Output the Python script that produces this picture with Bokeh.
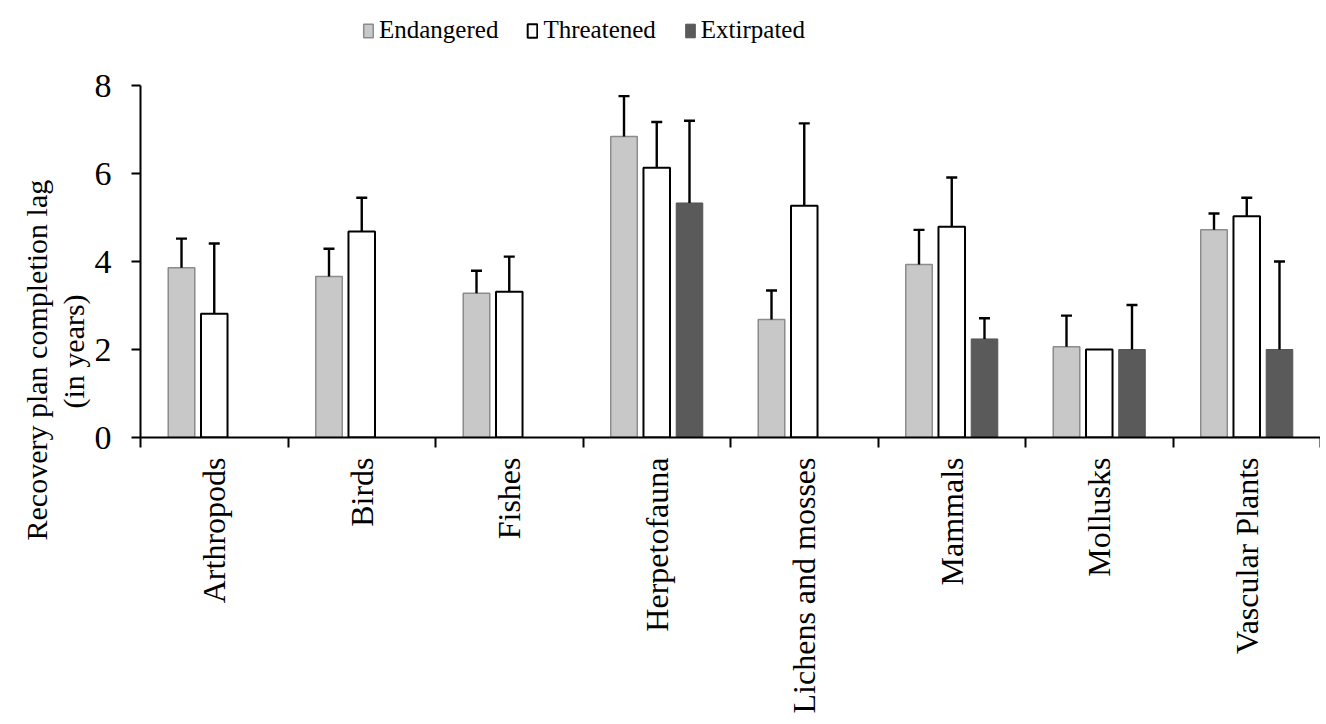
import numpy as np
from bokeh.plotting import figure
from bokeh.models import (ColumnDataSource, FixedTicker, Legend, LegendItem,
                          Whisker, TeeHead, Range1d, Title)
from bokeh.transform import dodge
from bokeh.embed import file_html
from bokeh.resources import INLINE

nan = float("nan")

categories = ["Arthropods", "Birds", "Fishes", "Herpetofauna",
              "Lichens and mosses", "Mammals", "Mollusks", "Vascular Plants"]
series_names = ["Endangered", "Threatened", "Extirpated"]

endangered = [3.86, 3.66, 3.28, 6.84, 2.68, 3.93, 2.06, 4.72]
endangered_err = [0.66, 0.63, 0.51, 0.92, 0.66, 0.79, 0.71, 0.37]

threatened = [2.81, 4.68, 3.31, 6.13, 5.27, 4.79, 2.00, 5.03]
threatened_err = [1.60, 0.77, 0.80, 1.04, 1.87, 1.12, nan, 0.42]

extirpated = [nan, nan, nan, 5.33, nan, 2.24, 2.00, 2.00]
extirpated_err = [nan, nan, nan, 1.87, nan, 0.47, 1.01, 2.00]

y_ticks = [0, 2, 4, 6, 8]
y_label_lines = ["Recovery plan completion lag", "(in years)"]

FONT = "Liberation Serif"

fills = ["#c8c8c8", "#ffffff", "#5a5a5a"]
lines = ["#8c8c8c", "#000000", "#555555"]
line_widths = [1.5, 2, 1]
offsets = [-0.222, 0.0, 0.222]
bar_w = 0.18

# layout (pixels)
W, H = 1320, 716
FRAME_BOTTOM = 442
AXIS_TOP_PX = 86          # where the value 8 sits
y_max = max(y_ticks)
y_end = y_max * FRAME_BOTTOM / (FRAME_BOTTOM - AXIS_TOP_PX)

n = len(categories)
pos = np.arange(n) + 0.5

p = figure(width=W, height=H, x_range=Range1d(0, n), y_range=Range1d(0, y_end),
           output_backend="svg", toolbar_location=None,
           min_border_left=140, min_border_right=0, min_border_top=0,
           min_border_bottom=H - FRAME_BOTTOM)
p.outline_line_color = None
p.xgrid.visible = False
p.ygrid.visible = False

items = []
for name, vals, errs, fc, lc, lw, off in zip(
        series_names, [endangered, threatened, extirpated],
        [endangered_err, threatened_err, extirpated_err],
        fills, lines, line_widths, offsets):
    vals = np.array(vals, dtype=float)
    errs = np.array(errs, dtype=float)
    keep = ~np.isnan(vals)
    src = ColumnDataSource(dict(x=pos[keep], top=vals[keep]))
    r = p.vbar(x=dodge("x", off), top="top", width=bar_w, source=src,
               fill_color=fc, line_color=lc, line_width=lw)
    items.append(LegendItem(label=name, renderers=[r]))
    kw = keep & ~np.isnan(errs)
    wsrc = ColumnDataSource(dict(bx=pos[kw] + off, lo=vals[kw], hi=vals[kw] + errs[kw]))
    w = Whisker(source=wsrc, base="bx", lower="lo", upper="hi",
                line_color="black", line_width=2.4,
                upper_head=TeeHead(size=11, line_width=2.4, line_color="black"),
                lower_head=None, level="overlay")
    p.add_layout(w)

legend = Legend(items=items, orientation="horizontal", location=(222, 393))
legend.label_text_font = FONT
legend.label_text_font_size = "25px"
legend.label_text_color = "black"
legend.glyph_width = 12
legend.glyph_height = 17
legend.label_standoff = 5
legend.spacing = 28
legend.padding = 0
legend.margin = 0
legend.border_line_color = None
legend.background_fill_alpha = 0
p.add_layout(legend, "center")

# x axis: category labels at centers, tick marks at boundaries (minor ticks)
xa = p.xaxis[0]
xa.ticker = FixedTicker(ticks=list(pos), minor_ticks=list(np.arange(n + 1)))
xa.major_label_overrides = {float(v): c for v, c in zip(pos, categories)}
xa.major_label_orientation = np.pi / 2
xa.major_tick_line_color = None
xa.major_tick_out = 10
xa.major_tick_in = 0
xa.minor_tick_out = 10
xa.minor_tick_in = 0
xa.minor_tick_line_color = "black"
xa.minor_tick_line_width = 2
xa.axis_line_width = 2
xa.axis_line_color = "black"
xa.major_label_standoff = 10
xa.major_label_text_font = FONT
xa.major_label_text_font_size = "32px"
xa.major_label_text_color = "black"

ya = p.yaxis[0]
ya.ticker = FixedTicker(ticks=y_ticks)
ya.bounds = (0, y_max)
ya.major_tick_out = 9
ya.major_tick_in = 0
ya.minor_tick_out = 0
ya.minor_tick_in = 0
ya.major_tick_line_width = 2
ya.major_tick_line_color = "black"
ya.axis_line_width = 2
ya.axis_line_color = "black"
ya.major_label_standoff = 20
ya.major_label_text_font = FONT
ya.major_label_text_font_size = "34px"
ya.major_label_text_color = "black"

# two-line y-axis title, placed as side titles
t2 = Title(text=y_label_lines[1], align="left", offset=29, standoff=4,
           text_font=FONT, text_font_size="30px", text_font_style="normal",
           text_color="black")
t1 = Title(text=y_label_lines[0], align="left", offset=-103, standoff=0,
           text_font=FONT, text_font_size="30px", text_font_style="normal",
           text_color="black")
p.add_layout(t2, "left")
p.add_layout(t1, "left")

open("out.html", "w").write(file_html(p, INLINE))
